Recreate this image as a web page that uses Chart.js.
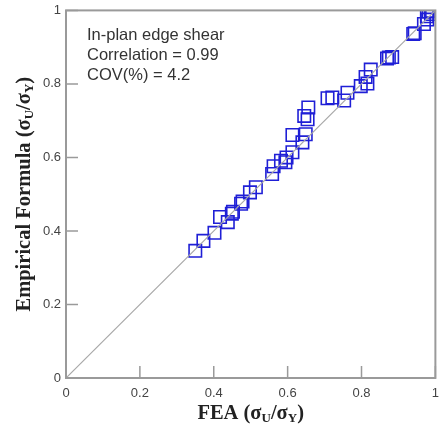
<!DOCTYPE html>
<html>
<head>
<meta charset="utf-8">
<script src="https://cdn.jsdelivr.net/npm/chart.js@4.4.1/dist/chart.umd.min.js"></script>
<style>
  html, body { margin: 0; padding: 0; background: #fff; overflow: hidden; }
  #wrap { width: 447px; height: 432px; position: relative; }
</style>
</head>
<body>
<div id="wrap"><canvas id="chart"></canvas></div>
<script>
// FEA values (x) and empirical formula values (y)
const feaValues = [0.350, 0.372, 0.402, 0.417, 0.438, 0.449, 0.452, 0.474, 0.478, 0.498,
  0.514, 0.558, 0.562, 0.582, 0.594, 0.597, 0.613, 0.613, 0.640, 0.649,
  0.645, 0.654, 0.656, 0.708, 0.721, 0.753, 0.762, 0.798, 0.811, 0.816,
  0.825, 0.869, 0.874, 0.883, 0.940, 0.944, 0.969, 0.977, 0.982, 0.988,
  0.991, 0.978];
const empValues = [0.346, 0.373, 0.395, 0.438, 0.424, 0.447, 0.452, 0.474, 0.480, 0.505,
  0.519, 0.555, 0.576, 0.591, 0.587, 0.600, 0.614, 0.661, 0.641, 0.663,
  0.713, 0.704, 0.736, 0.761, 0.763, 0.755, 0.776, 0.794, 0.819, 0.801,
  0.839, 0.869, 0.872, 0.873, 0.936, 0.938, 0.963, 0.984, 0.997, 0.990,
  0.999, 0.975];
const refLine = [0, 1];
const tickValues = [0, 0.2, 0.4, 0.6, 0.8, 1];
const noteLines = ["In-plan edge shear", "Correlation = 0.99", "COV(%) = 4.2"];

const axisGray = "#9a9a9a";

// text with subscripts: parts = [[text, isSub], ...]
const measureRich = (ctx, parts, bigFont, smallFont) => {
  let w = 0;
  parts.forEach((p) => {
    ctx.font = p[1] ? smallFont : bigFont;
    w += ctx.measureText(p[0]).width;
  });
  return w;
};
const fillRich = (ctx, parts, x, y, bigFont, smallFont) => {
  let cx = x;
  parts.forEach((p) => {
    ctx.font = p[1] ? smallFont : bigFont;
    ctx.fillText(p[0], cx, p[1] ? y + 5 : y);
    cx += ctx.measureText(p[0]).width;
  });
};

const framePlugin = {
  id: "frame",
  afterDraw(chart) {
    const { ctx, chartArea: a, scales } = chart;
    ctx.save();
    // box
    ctx.strokeStyle = axisGray;
    ctx.lineWidth = 2;
    ctx.strokeRect(a.left, a.top, a.right - a.left, a.bottom - a.top);
    // inward ticks
    ctx.lineWidth = 1.5;
    ctx.beginPath();
    tickValues.forEach((v) => {
      const px = scales.x.getPixelForValue(v);
      ctx.moveTo(px, a.bottom);
      ctx.lineTo(px, a.bottom - 12);
      const py = scales.y.getPixelForValue(v);
      ctx.moveTo(a.left, py);
      ctx.lineTo(a.left + 12, py);
    });
    ctx.stroke();

    // annotation text
    ctx.fillStyle = "#333";
    ctx.font = "16.5px 'Liberation Sans', Arial, sans-serif";
    ctx.textBaseline = "middle";
    ctx.textAlign = "left";
    noteLines.forEach((t, i) => ctx.fillText(t, 87, 35 + i * 20));

    // axis titles with subscripts
    const big = "bold 20.5px 'Liberation Serif', 'Times New Roman', serif";
    const small = "bold 13px 'Liberation Serif', 'Times New Roman', serif";
    ctx.fillStyle = "#222";
    ctx.textBaseline = "middle";
    const xParts = [["FEA (σ", false], ["U", true], ["/σ", false], ["Y", true], [")", false]];
    const xw = measureRich(ctx, xParts, big, small);
    fillRich(ctx, xParts, (a.left + a.right) / 2 - xw / 2, 414, big, small);

    const yParts = [["Empirical Formula (σ", false], ["U", true], ["/σ", false], ["Y", true], [")", false]];
    const yw = measureRich(ctx, yParts, big, small);
    ctx.translate(25, (a.top + a.bottom) / 2);
    ctx.rotate(-Math.PI / 2);
    fillRich(ctx, yParts, -yw / 2, 0, big, small);
    ctx.restore();
  },
};

const ctx = document.getElementById("chart").getContext("2d");

const myChart = new Chart(ctx, {
  type: "scatter",
  data: {
    datasets: [
      {
        label: "1:1",
        type: "line",
        data: refLine.map((v) => ({ x: v, y: v })),
        borderColor: "#a8a8a8",
        borderWidth: 1.2,
        pointRadius: 0,
        fill: false,
      },
      {
        label: "Data",
        data: feaValues.map((v, i) => ({ x: v, y: empValues[i] })),
        pointStyle: "rect",
        pointRadius: 8.8,
        pointBorderWidth: 1.6,
        pointBorderColor: "#1f1fd6",
        pointBackgroundColor: "rgba(0,0,0,0)",
        pointHoverRadius: 8.8,
      },
    ],
  },
  options: {
    responsive: true,
    maintainAspectRatio: false,
    animation: false,
    events: [],
    layout: { padding: { left: 0, right: 0, top: 9, bottom: 0 } },
    plugins: {
      legend: { display: false },
      tooltip: { enabled: false },
    },
    scales: {
      x: {
        type: "linear",
        min: 0,
        max: 1,
        afterBuildTicks: (s) => { s.ticks = tickValues.map((v) => ({ value: v })); },
        afterFit: (s) => { s.height = 54; },
        grid: { display: false, drawTicks: false },
        border: { display: false },
        ticks: {
          padding: 8,
          color: "#444",
          font: { family: "'Liberation Sans', Arial, sans-serif", size: 13 },
          maxRotation: 0,
          callback: (v) => String(v),
        },
      },
      y: {
        type: "linear",
        min: 0,
        max: 1,
        afterBuildTicks: (s) => { s.ticks = tickValues.map((v) => ({ value: v })); },
        afterFit: (s) => { s.width = 66; s.paddingTop = 0; s.paddingBottom = 0; },
        grid: { display: false, drawTicks: false },
        border: { display: false },
        ticks: {
          padding: 5,
          color: "#444",
          font: { family: "'Liberation Sans', Arial, sans-serif", size: 13 },
          callback: (v) => String(v),
        },
      },
    },
  },
  plugins: [framePlugin],
});
</script>
</body>
</html>
